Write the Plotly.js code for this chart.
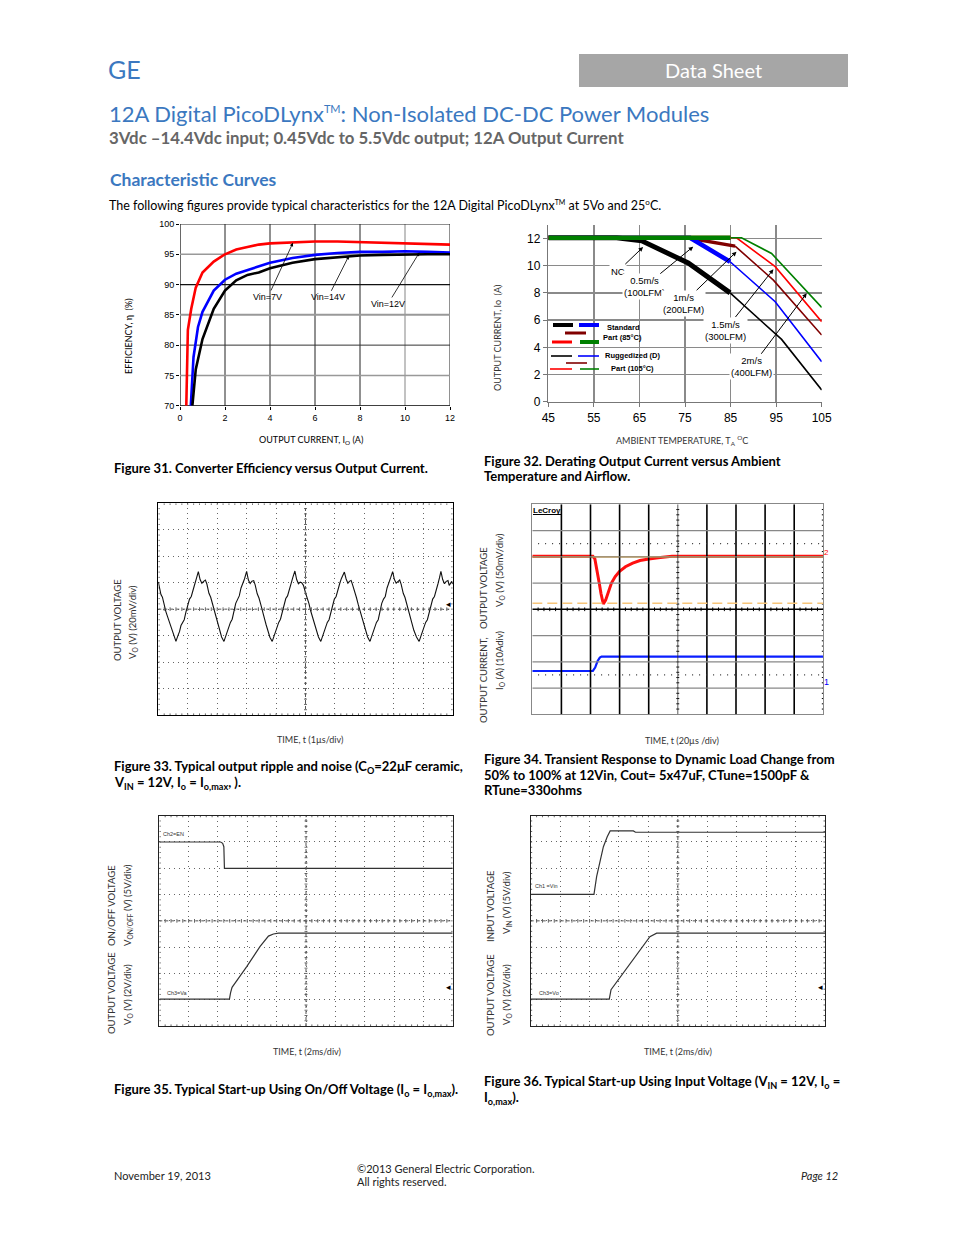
<!DOCTYPE html>
<html><head><meta charset="utf-8">
<script src="https://cdn.plot.ly/plotly-3.0.1.min.js"></script>
<style>html,body{margin:0;padding:0;background:#fff}#chart{width:954px;height:1235px}</style>
</head><body><div id="chart"></div>
<script>
const W = 954, H = 1235;

// ---------- Figure 31: efficiency vs output current ----------
const eff7Current  = [0.28,0.35,0.5,0.7,1,1.5,2,2.5,3,3.5,4,5,6,7,8,9,10,11,12];
const eff7Value    = [70,82.5,86,89.5,92,93.8,95,95.8,96.2,96.6,96.8,97,97.1,97.1,97,97,96.9,96.8,96.6];
const eff14Current = [0.48,0.6,0.8,1,1.5,2,2.5,3,4,5,6,7,8,9,10,11,12];
const eff14Value   = [70,78,83,85.5,89,90.8,91.8,92.4,93.6,94.4,94.9,95.2,95.4,95.4,95.5,95.4,95.3];
const eff12Current = [0.55,0.7,1,1.5,2,2.5,3,3.5,4,5,6,7,8,9,10,11,12];
const eff12Value   = [70,76,81,86,89,90.7,91.6,92,92.7,93.6,94.2,94.5,94.8,94.9,95,95,95];
const effXTicks = [0,2,4,6,8,10,12];
const effYTicks = [70,75,80,85,90,95,100];

// ---------- Figure 32: derating ----------
const ncThickT = [45,60,65.5,75.7,84.9],  ncThickI = [12.05,12.05,11.83,10.2,8.0];
const ncThinT  = [84.9,96.2,105],         ncThinI  = [8.0,4.58,0.86];
const v05ThickT = [45,76.1,84.9],         v05ThickI = [12.05,12.05,10.29];
const v05ThinT  = [84.9,94.8,105],        v05ThinI  = [10.29,7.35,2.94];
const v10ThickT = [45,75.4,86.0],         v10ThickI = [12.05,12.05,11.44];
const v10ThinT  = [86.0,94.4,105],        v10ThinI  = [11.44,8.94,4.9];
const v15ThickT = [45,85],                v15ThickI = [12.05,12.05];
const v15ThinT  = [85,86.3,94.8,105],     v15ThinI  = [12.05,12.05,9.93,5.88];
const v20ThickT = [45,85],                v20ThickI = [12.05,12.05];
const v20ThinT  = [85,87.4,94.0,105],     v20ThinI  = [12.05,12.05,10.9,6.93];
const derXTicks = [45,55,65,75,85,95,105];
const derYTicks = [0,2,4,6,8,10,12];

// ---------- Figure 33: output ripple (divisions) ----------
const ripT = [0,0.04,0.09,0.14,0.2,0.26,0.32,0.38,0.44,0.5,0.55,0.6,
 0.66,0.72,0.77,0.82,0.88,0.94,1.00,1.06,1.12,1.18,1.24,1.30,1.36,1.42,1.48,1.54,1.60,1.65,1.72,1.78,1.84,1.90,1.96,2.02,2.08,2.15,2.23,
 2.29,2.35,2.40,2.45,2.51,2.57,2.63,2.69,2.75,2.81,2.87,2.93,3.00,3.06,3.12,3.18,3.24,3.29,3.36,3.42,3.48,3.54,3.60,3.66,3.72,3.79,3.87,
 3.93,3.99,4.04,4.09,4.15,4.21,4.27,4.33,4.39,4.45,4.51,4.57,4.64,4.70,4.76,4.82,4.87,4.93,5.00,5.06,5.12,5.18,5.24,5.30,5.36,5.44,5.52,
 5.58,5.64,5.69,5.74,5.80,5.86,5.92,5.98,6.04,6.10,6.16,6.22,6.32,6.38,6.44,6.50,6.55,6.60,6.67,6.73,6.79,6.86,6.92,6.98,7.04,7.11,7.19,
 7.25,7.31,7.36,7.41,7.47,7.53,7.59,7.65,7.71,7.77,7.83,7.89,7.96,8.02,8.08,8.14,8.20,8.25,8.32,8.38,8.44,8.50,8.56,8.62,8.68,8.77,8.86,
 8.92,8.98,9.03,9.08,9.14,9.20,9.26,9.32,9.38,9.44,9.50,9.55,9.60,9.66,9.72,9.78,9.84,9.88,9.93,9.97,10.0];
const ripV = [1.03,0.80,0.55,0.45,0.15,-0.10,-0.30,-0.50,-0.75,-0.95,-1.12,-1.22,
 -1.02,-0.85,-0.62,-0.52,-0.40,-0.10,0.20,0.38,0.48,0.78,0.95,1.18,1.42,1.12,0.98,1.05,1.10,0.95,0.60,0.45,0.20,-0.10,-0.30,-0.55,-0.80,-1.05,-1.22,
 -1.00,-0.82,-0.60,-0.50,-0.38,-0.08,0.22,0.36,0.50,0.80,0.97,1.15,1.43,1.10,0.97,1.06,1.08,0.92,0.58,0.42,0.18,-0.12,-0.33,-0.58,-0.82,-1.06,-1.22,
 -1.02,-0.84,-0.63,-0.50,-0.38,-0.12,0.20,0.40,0.50,0.76,0.96,1.20,1.44,1.12,0.96,1.02,1.00,0.90,0.62,0.44,0.20,-0.08,-0.30,-0.56,-0.80,-1.05,-1.22,
 -1.00,-0.84,-0.62,-0.50,-0.40,-0.10,0.20,0.38,0.48,0.78,0.96,1.16,1.40,1.14,0.98,1.06,1.08,0.92,0.60,0.44,0.18,-0.10,-0.32,-0.56,-0.80,-1.05,-1.22,
 -1.02,-0.84,-0.62,-0.50,-0.40,-0.10,0.22,0.38,0.48,0.80,0.96,1.18,1.42,1.12,0.98,1.06,1.10,0.94,0.60,0.44,0.20,-0.10,-0.32,-0.56,-0.80,-1.05,-1.22,
 -1.02,-0.84,-0.62,-0.50,-0.40,-0.10,0.20,0.38,0.48,0.78,0.96,1.18,1.43,1.12,0.96,1.05,1.08,0.90,0.98,1.05,0.95];

// ---------- Figure 34: transient response (divisions) ----------
const trVoT = [0,2.08,2.15,2.22,2.30,2.36,2.44,2.52,2.62,2.72,2.85,3.0,3.2,3.45,3.7,4.0,4.4,4.8,10];
const trVoV = [2.02,2.02,1.92,1.55,1.0,0.6,0.2,0.35,0.72,1.0,1.25,1.45,1.62,1.76,1.86,1.92,1.97,2.02,2.02];
const trIoT = [0,2.08,2.16,2.24,2.32,2.38,10];
const trIoV = [-2.35,-2.35,-2.22,-1.98,-1.84,-1.80,-1.80];
const trRefLevel = 2.0, trMinLevel = 0.23;

// ---------- Figure 35: start-up using On/Off ----------
const enT = [0,2.09,2.16,2.20,2.22,10];
const enV = [3.0,3.0,2.95,2.82,2.0,2.0];
const onVoT = [0,2.39,2.43,2.48,2.98,3.43,3.72,3.89,4.06,10];
const onVoV = [-2.98,-2.98,-2.73,-2.53,-1.74,-0.98,-0.58,-0.50,-0.47,-0.47];

// ---------- Figure 36: start-up using input voltage ----------
const vinT = [0,2.15,2.24,2.36,2.47,2.60,2.70,3.49,3.56,10];
const vinV = [1.01,1.01,1.68,2.31,2.82,3.20,3.42,3.42,3.37,3.37];
const inVoT = [0,2.67,2.73,3.38,3.83,4.05,4.28,10];
const inVoV = [-2.98,-2.98,-2.62,-1.61,-0.91,-0.60,-0.47,-0.47];

// ---------- helpers ----------
const BLUE = '#3b78c0';
const DOC = 'Lato, "Open Sans", sans-serif';
const ARIAL = '"Liberation Sans", Arial, sans-serif';
const px = x => x / W, py = y => 1 - y / H;
const ann = [];
const shapes = [];
function T(x, y, text, o = {}) {
  const xa = o.xanchor || 'left';
  const dx = xa === 'left' ? -2 : (xa === 'right' ? 2 : 0);
  ann.push(Object.assign({xref:'paper', yref:'paper', x:px(x + dx), y:py(y), text, showarrow:false,
    xanchor:'left', yanchor:'middle', font:{family:DOC, size:12, color:'#000'}}, o));
}
function dom(x0, x1, y0, y1) { return {x:[px(x0), px(x1)], y:[py(y1), py(y0)]}; }
const TM = '<sup><span style="font-size:11px">TM</span></sup>';

const traces = [];
const layout = {
  width: W, height: H, margin:{l:0,r:0,t:0,b:0},
  paper_bgcolor:'#fff', plot_bgcolor:'rgba(0,0,0,0)', showlegend:false,
  annotations: ann, shapes: shapes
};

// ===== Header =====
T(108, 69, 'GE', {font:{family:DOC, size:25, color:BLUE}});
shapes.push({type:'rect', xref:'paper', yref:'paper', x0:px(579), x1:px(848), y0:py(87), y1:py(54),
  fillcolor:'#a6a6a6', line:{width:0}, layer:'below'});
T(713, 70, 'Data Sheet', {xanchor:'center', font:{family:DOC, size:20, color:'#fff'}});
T(109, 113, '12A Digital PicoDLynx' + TM + ': Non-Isolated DC-DC Power Modules', {font:{family:DOC, size:22, color:BLUE}});
T(109, 137, '<b>3Vdc –14.4Vdc input; 0.45Vdc to 5.5Vdc output; 12A Output Current</b>', {font:{family:DOC, size:16.8, color:'#666'}});
T(110, 179, '<b>Characteristic Curves</b>', {font:{family:DOC, size:17.5, color:BLUE}});
T(109, 205, 'The following figures provide typical characteristics for the 12A Digital PicoDLynx<sup><span style="font-size:7px">TM</span></sup> at 5Vo and 25<sup><span style="font-size:8px">o</span></sup>C.', {font:{family:DOC, size:12.5, color:'#000'}});

// ===== Figure 31 =====
{
  const d = dom(180, 450, 224, 405.7);
  layout.xaxis = {domain:d.x, range:[0,12], anchor:'y', showgrid:false, zeroline:false, tickvals:effXTicks,
    ticks:'outside', ticklen:3, tickcolor:'#000', tickfont:{family:ARIAL, size:9, color:'#000'}, fixedrange:true};
  layout.yaxis = {domain:d.y, range:[70,100], anchor:'x', showgrid:false, zeroline:false, tickvals:effYTicks,
    ticks:'outside', ticklen:3, tickcolor:'#000', tickfont:{family:ARIAL, size:9, color:'#000'}, fixedrange:true};
  const vg = [[0,'#000',1.2],[2,'#222',1],[4,'#222',1],[6,'#222',1],[8,'#222',1],[10,'#999',1.2],[12,'#222',1]];
  vg.forEach(([v,c,w]) => shapes.push({type:'line', xref:'x', yref:'y', x0:v, x1:v, y0:70, y1:100, line:{color:c, width:w}, layer:'below'}));
  const hg = [[70,'#000',1.2],[75,'#999',1.5],[80,'#333',1],[85,'#999',2],[90,'#111',1.2],[95,'#999',1.5],[100,'#222',1]];
  hg.forEach(([v,c,w]) => shapes.push({type:'line', xref:'x', yref:'y', x0:0, x1:12, y0:v, y1:v, line:{color:c, width:w}, layer:'below'}));
  traces.push({x:eff14Current, y:eff14Value, xaxis:'x', yaxis:'y', mode:'lines', line:{color:'#0000ff', width:2.6}});
  traces.push({x:eff12Current, y:eff12Value, xaxis:'x', yaxis:'y', mode:'lines', line:{color:'#000', width:2.6}});
  traces.push({x:eff7Current, y:eff7Value, xaxis:'x', yaxis:'y', mode:'lines', line:{color:'#ff0000', width:2.6}});
  const arr = (text, tx, ty, hx, hy) => ann.push({xref:'x', yref:'y', axref:'x', ayref:'y', x:hx, y:hy, ax:tx, ay:ty, text,
    showarrow:true, arrowhead:2, arrowsize:0.9, arrowwidth:0.8, arrowcolor:'#000', font:{family:ARIAL, size:9, color:'#000'}});
  arr('Vin=7V', 3.91, 87.95, 5.02, 96.9);
  arr('Vin=14V', 6.58, 87.9, 7.51, 94.77);
  arr('Vin=12V', 9.24, 86.8, 10.64, 95.3);
  T(128, 336, 'EFFICIENCY, η  (%)', {xanchor:'center', textangle:-90, font:{family:DOC, size:9, color:'#000'}});
  T(311, 440, 'OUTPUT CURRENT, I<sub>O</sub> (A)', {xanchor:'center', font:{family:DOC, size:9, color:'#000'}});
}

// ===== Figure 32 =====
{
  const d = dom(548.3, 821.7, 224.9, 401.7);
  layout.xaxis2 = {domain:d.x, range:[45,105], anchor:'y2', showgrid:true, gridcolor:'#8a8a8a', gridwidth:1.5, zeroline:false,
    tickvals:derXTicks, ticks:'outside', ticklen:4, tickcolor:'#777', showline:true, linecolor:'#777', linewidth:1.5,
    tickfont:{family:ARIAL, size:12, color:'#000'}, fixedrange:true};
  layout.yaxis2 = {domain:d.y, range:[0,13], anchor:'x2', showgrid:true, gridcolor:'#8a8a8a', gridwidth:1.5, zeroline:false,
    tickvals:derYTicks, ticks:'outside', ticklen:4, tickcolor:'#777', showline:true, linecolor:'#777', linewidth:1.5,
    tickfont:{family:ARIAL, size:12, color:'#000'}, fixedrange:true};
  const L = (x, y, c, w) => traces.push({x, y, xaxis:'x2', yaxis:'y2', mode:'lines', line:{color:c, width:w}});
  L(ncThickT, ncThickI, '#000', 5);
  L(v10ThickT, v10ThickI, '#800000', 3.5);
  L(v05ThickT, v05ThickI, '#0000ff', 4.5);
  L(v15ThickT, v15ThickI, '#ff0000', 4);
  L(v20ThickT, v20ThickI, '#008000', 4.5);
  L(ncThinT, ncThinI, '#000', 1.6);
  L(v05ThinT, v05ThinI, '#0000ff', 1.6);
  L(v10ThinT, v10ThinI, '#800000', 1.6);
  L(v15ThinT, v15ThinI, '#ff0000', 1.6);
  L(v20ThinT, v20ThinI, '#008000', 1.6);
  const arr = (text, tx, ty, hx, hy) => ann.push({xref:'x2', yref:'y2', axref:'x2', ayref:'y2', x:hx, y:hy, ax:tx, ay:ty, text,
    showarrow:true, arrowhead:2, arrowsize:0.9, arrowwidth:1, arrowcolor:'#000', bgcolor:'#fff', borderpad:1,
    font:{family:ARIAL, size:9.5, color:'#000'}});
  arr('NC', 60.3, 9.6, 65.8, 11.37);
  arr('0.5m/s<br>(100LFM)', 66.1, 8.46, 76.8, 11.4);
  arr('1m/s<br>(200LFM)', 74.6, 7.24, 86.3, 11.03);
  arr('1.5m/s<br>(300LFM)', 83.8, 5.27, 94.4, 9.73);
  arr('2m/s<br>(400LFM)', 89.6, 2.57, 101.7, 7.97);
  // legend samples
  const S = (x0, x1, y, c, w) => shapes.push({type:'line', xref:'paper', yref:'paper', x0:px(x0), x1:px(x1), y0:py(y), y1:py(y), line:{color:c, width:w}});
  S(553,573,325,'#000',4); S(579,599,325,'#0000ff',4); S(565,586,333,'#800000',3);
  S(552,572,342,'#ff0000',3); S(580,599,342,'#008000',4);
  S(551,572,356,'#000',1.6); S(578,599,356,'#0000ff',1.6); S(566,587,363,'#800000',1.6);
  S(550,572,369,'#ff0000',1.6); S(580,599,369,'#008000',1.6);
  const lf = {family:ARIAL, size:7.5, color:'#000'};
  T(623, 327, '<b>Standard</b>', {xanchor:'center', font:lf});
  T(622, 338, '<b>Part (85°C)</b>', {xanchor:'center', font:lf});
  T(632, 356, '<b>Ruggedized (D)</b>', {xanchor:'center', font:lf});
  T(632, 369, '<b>Part (105°C)</b>', {xanchor:'center', font:lf});
  T(498, 338, 'OUTPUT CURRENT, Io  (A)', {xanchor:'center', textangle:-90, font:{family:DOC, size:9, color:'#333'}});
  T(682, 440, 'AMBIENT TEMPERATURE, T<sub>A</sub> <sup>O</sup>C', {xanchor:'center', font:{family:DOC, size:9, color:'#333'}});
}

// ===== scope helpers =====
function scopeAxes(n, x0, x1, y0, y1, grid, frameColor) {
  const d = dom(x0, x1, y0, y1);
  const base = {showticklabels:false, ticks:'', zeroline:false, showline:true, mirror:true, linecolor:frameColor, linewidth:1,
    showgrid:grid, griddash:'1px,4px', gridcolor:'#666', gridwidth:1, dtick:1, tick0:0, fixedrange:true};
  layout['xaxis'+n] = Object.assign({}, base, {domain:d.x, range:[0,10], anchor:'y'+n});
  layout['yaxis'+n] = Object.assign({}, base, {domain:d.y, range:[-4,4], anchor:'x'+n});
}
function graticule(n, opts) {
  const xs = [], ys = [];
  const seg = (a, b, c, e) => { xs.push(a, c, null); ys.push(b, e, null); };
  for (let k = 1; k < 50; k++) {
    const x = k * 0.2;
    seg(x, -0.07, x, 0.07);
    if (opts.edgeX) { seg(x, 3.94, x, 4); seg(x, -4, x, -3.94); }
  }
  for (let k = 1; k < 40; k++) {
    const y = -4 + k * 0.2;
    seg(4.95, y, 5.05, y);
    if (opts.edgeY) { seg(0, y, 0.05, y); }
    if (opts.edgeY || opts.rightEdge) seg(9.95, y, 10, y);
  }
  traces.push({x:xs, y:ys, xaxis:'x'+n, yaxis:'y'+n, mode:'lines', line:{color:opts.color || '#333', width:1}, hoverinfo:'skip'});
}
function centerLines(n, color, dash, w) {
  shapes.push({type:'line', xref:'x'+n, yref:'y'+n, x0:0, x1:10, y0:0, y1:0, line:{color, width:w, dash}});
  shapes.push({type:'line', xref:'x'+n, yref:'y'+n, x0:5, x1:5, y0:-4, y1:4, line:{color, width:w, dash}});
}

// ===== Figure 33 =====
scopeAxes(3, 158.3, 452.7, 503.3, 715, true, '#000');
centerLines(3, '#555', '3px,3px', 1);
graticule(3, {edgeX:true, edgeY:true, color:'#666'});
traces.push({x:ripT, y:ripV, xaxis:'x3', yaxis:'y3', mode:'lines', line:{color:'#111', width:1.1}});
T(448, 604, '◂', {xanchor:'center', font:{family:'DejaVu Sans', size:9, color:'#000'}});
T(117, 620, 'OUTPUT VOLTAGE', {xanchor:'center', textangle:-90, font:{family:DOC, size:9.5, color:'#333'}});
T(133, 622, 'V<sub>O</sub> (V) (20mV/div)', {xanchor:'center', textangle:-90, font:{family:DOC, size:9.5, color:'#333'}});
T(310, 739, 'TIME, t (1µs/div)', {xanchor:'center', font:{family:DOC, size:9, color:'#333'}});

// ===== Figure 34 =====
scopeAxes(4, 532.3, 823.3, 504.3, 714.3, false, '#888');
for (let k = 1; k <= 9; k++) {
  if (k === 5) continue;
  shapes.push({type:'line', xref:'x4', yref:'y4', x0:k, x1:k, y0:-4, y1:4, line:{color:'#000', width:1.6}});
}
for (let k = -3; k <= 3; k++) {
  if (k === 0) continue;
  shapes.push({type:'line', xref:'x4', yref:'y4', x0:0, x1:10, y0:k, y1:k, line:{color:'#888', width:1.2}});
}
shapes.push({type:'line', xref:'x4', yref:'y4', x0:0, x1:10, y0:0, y1:0, line:{color:'#000', width:1.6}});
shapes.push({type:'line', xref:'x4', yref:'y4', x0:5, x1:5, y0:-4, y1:4, line:{color:'#333', width:0.8}});
[2.5, -2.5].forEach(v => shapes.push({type:'line', xref:'x4', yref:'y4', x0:0.2, x1:10, y0:v, y1:v, line:{color:'#333', width:1.2, dash:'1px,6px'}}));
graticule(4, {rightEdge:true, color:'#000'});
shapes.push({type:'line', xref:'x4', yref:'y4', x0:0, x1:10, y0:trMinLevel, y1:trMinLevel, line:{color:'#f7c57a', width:1.5, dash:'10px,5px'}});
traces.push({x:trIoT, y:trIoV, xaxis:'x4', yaxis:'y4', mode:'lines', line:{color:'#0a1fff', width:2.2}});
traces.push({x:trVoT, y:trVoV, xaxis:'x4', yaxis:'y4', mode:'lines', line:{color:'#ff1010', width:3}});
traces.push({x:[0,10], y:[trRefLevel,trRefLevel], xaxis:'x4', yaxis:'y4', mode:'lines', line:{color:'#f5a000', width:1.2}});
T(533, 510, '<b>LeCroy</b>', {font:{family:ARIAL, size:8, color:'#000'}});
shapes.push({type:'line', xref:'paper', yref:'paper', x0:px(533), x1:px(561), y0:py(514.5), y1:py(514.5), line:{color:'#000', width:1}});
T(826, 552, '2', {xanchor:'center', font:{family:ARIAL, size:8, color:'#ff0000'}});
T(826, 682, '1', {xanchor:'center', font:{family:ARIAL, size:9, color:'#0000ff'}});
T(483, 588, 'OUTPUT VOLTAGE', {xanchor:'center', textangle:-90, font:{family:DOC, size:9.5, color:'#333'}});
T(500, 570, 'V<sub>O</sub> (V) (50mV/div)', {xanchor:'center', textangle:-90, font:{family:DOC, size:9.5, color:'#333'}});
T(483, 680, 'OUTPUT CURRENT,', {xanchor:'center', textangle:-90, font:{family:DOC, size:9.5, color:'#333'}});
T(500, 660, 'I<sub>O</sub> (A) (10Adiv)', {xanchor:'center', textangle:-90, font:{family:DOC, size:9.5, color:'#333'}});
T(682, 740, 'TIME, t (20µs /div)', {xanchor:'center', font:{family:DOC, size:9, color:'#333'}});

// ===== Figure 35 =====
scopeAxes(5, 159.3, 452.7, 815.7, 1026, true, '#222');
centerLines(5, '#555', '3px,3px', 1);
graticule(5, {edgeX:true, edgeY:true, color:'#666'});
traces.push({x:enT, y:enV, xaxis:'x5', yaxis:'y5', mode:'lines', line:{color:'#333', width:1.2}});
traces.push({x:onVoT, y:onVoV, xaxis:'x5', yaxis:'y5', mode:'lines', line:{color:'#333', width:1.2}});
T(163, 834, 'Ch2=EN', {font:{family:ARIAL, size:5.5, color:'#333'}});
T(167, 993, 'Ch3=Va', {font:{family:ARIAL, size:5.5, color:'#333'}});
T(448, 987, '◂', {xanchor:'center', font:{family:'DejaVu Sans', size:9, color:'#000'}});
T(111, 993, 'OUTPUT VOLTAGE', {xanchor:'center', textangle:-90, font:{family:DOC, size:9.5, color:'#333'}});
T(111, 906, 'ON/OFF VOLTAGE', {xanchor:'center', textangle:-90, font:{family:DOC, size:9.5, color:'#333'}});
T(128, 995, 'V<sub>O</sub> (V) (2V/div)', {xanchor:'center', textangle:-90, font:{family:DOC, size:9.5, color:'#333'}});
T(128, 905, 'V<sub>ON/OFF</sub> (V) (5V/div)', {xanchor:'center', textangle:-90, font:{family:DOC, size:9.5, color:'#333'}});
T(307, 1051, 'TIME, t (2ms/div)', {xanchor:'center', font:{family:DOC, size:9, color:'#333'}});

// ===== Figure 36 =====
scopeAxes(6, 530.7, 825, 815.7, 1026, true, '#222');
centerLines(6, '#555', '3px,3px', 1);
graticule(6, {edgeX:true, edgeY:true, color:'#666'});
traces.push({x:vinT, y:vinV, xaxis:'x6', yaxis:'y6', mode:'lines', line:{color:'#333', width:1.2}});
traces.push({x:inVoT, y:inVoV, xaxis:'x6', yaxis:'y6', mode:'lines', line:{color:'#333', width:1.2}});
T(535, 886, 'Ch1 =Vin', {font:{family:ARIAL, size:5.5, color:'#333'}});
T(539, 993, 'Ch3=Vo', {font:{family:ARIAL, size:5.5, color:'#333'}});
T(820, 987, '◂', {xanchor:'center', font:{family:'DejaVu Sans', size:9, color:'#000'}});
T(490, 906, 'INPUT VOLTAGE', {xanchor:'center', textangle:-90, font:{family:DOC, size:9.5, color:'#333'}});
T(507, 903, 'V<sub>IN</sub> (V) (5V/div)', {xanchor:'center', textangle:-90, font:{family:DOC, size:9.5, color:'#333'}});
T(490, 995, 'OUTPUT VOLTAGE', {xanchor:'center', textangle:-90, font:{family:DOC, size:9.5, color:'#333'}});
T(507, 995, 'V<sub>O</sub> (V) (2V/div)', {xanchor:'center', textangle:-90, font:{family:DOC, size:9.5, color:'#333'}});
T(678, 1051, 'TIME, t (2ms/div)', {xanchor:'center', font:{family:DOC, size:9, color:'#333'}});

// ===== Captions =====
const CF = {family:DOC, size:13, color:'#000'};
T(114, 468, '<b>Figure 31. Converter Efficiency versus Output Current.</b>', {font:CF});
T(484, 461, '<b>Figure 32. Derating Output Current versus Ambient</b>', {font:CF});
T(484, 476, '<b>Temperature and Airflow.</b>', {font:CF});
T(114, 767, '<b>Figure 33. Typical output ripple and noise (C<sub>O</sub>=22μF ceramic,</b>', {font:CF});
T(114, 783, '<b>V<sub>IN</sub> = 12V, I<sub>o</sub> = I<sub>o,max</sub>, ).</b>', {font:CF});
T(484, 759, '<b>Figure 34. Transient Response to Dynamic Load Change from</b>', {font:CF});
T(484, 775, '<b>50% to 100% at 12Vin, Cout= 5x47uF, CTune=1500pF &amp;</b>', {font:CF});
T(484, 790, '<b>RTune=330ohms</b>', {font:CF});
T(114, 1090, '<b>Figure 35. Typical Start-up Using On/Off Voltage (I<sub>o</sub> = I<sub>o,max</sub>).</b>', {font:CF});
T(484, 1082, '<b>Figure 36. Typical Start-up Using Input Voltage (V<sub>IN</sub> = 12V, I<sub>o</sub> =</b>', {font:CF});
T(484, 1098, '<b>I<sub>o,max</sub>).</b>', {font:CF});

// ===== Footer =====
const FF = {family:DOC, size:11, color:'#222'};
T(114, 1175, 'November 19, 2013', {font:FF});
T(357, 1168, '©2013 General Electric Corporation.', {font:FF});
T(357, 1181, 'All rights reserved.', {font:FF});
T(838, 1175, '<i>Page 12</i>', {xanchor:'right', font:FF});

Plotly.newPlot('chart', traces, layout, {staticPlot:true, displayModeBar:false});
</script>
</body></html>
